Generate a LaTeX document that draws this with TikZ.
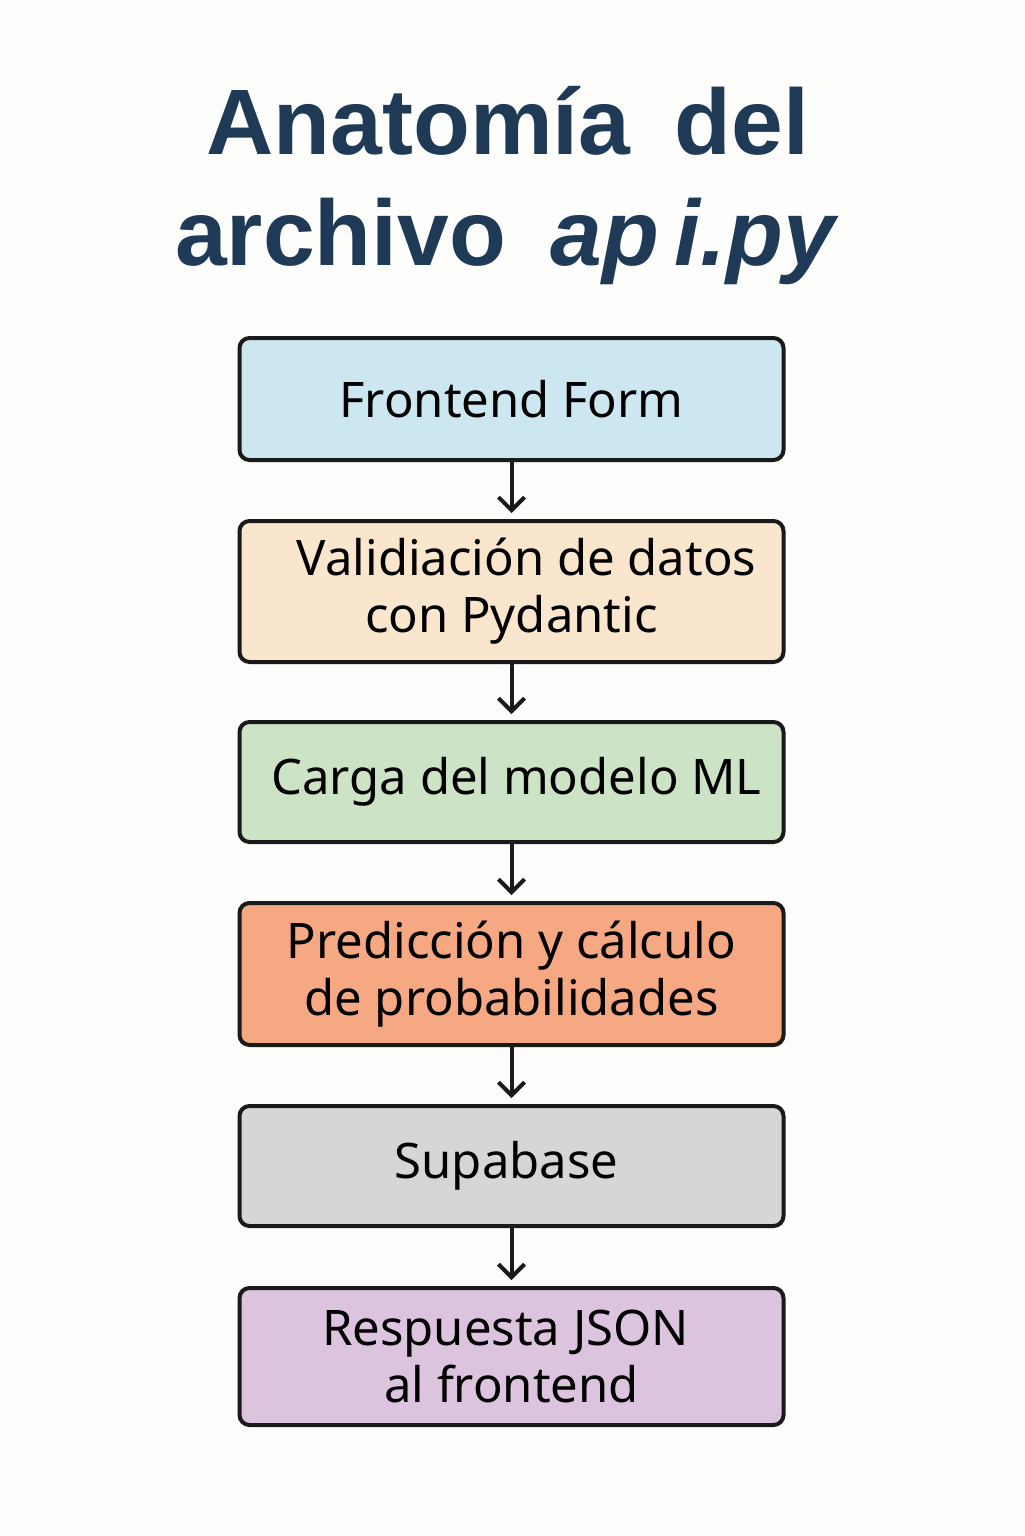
\documentclass[tikz,border=0pt]{standalone}
\usepackage{fontspec}
\setmainfont{Noto Sans}
\newfontfamily\titlefont{Liberation Sans}
\usetikzlibrary{arrows.meta}
\definecolor{bgc}{HTML}{FDFDFB}
\definecolor{titlec}{HTML}{1F3A57}
\definecolor{c1}{HTML}{CDE7F0}
\definecolor{c2}{HTML}{FAE6CC}
\definecolor{c3}{HTML}{CDE3C6}
\definecolor{c4}{HTML}{F6A882}
\definecolor{c5}{HTML}{D6D6D6}
\definecolor{c6}{HTML}{DCC4DF}
\definecolor{linec}{HTML}{1A1A1A}
\tikzset{
  stepbox/.style={draw=linec, line width=2pt, rounded corners=5pt,
    minimum width=272pt, align=center, inner sep=0pt,
    font=\fontsize{24.5}{28.5}\selectfont, text=black},
  flow/.style={draw=linec, line width=2pt,
    -{Straight Barb[length=6.5pt,width=13pt,line width=2pt]}, shorten >=3pt},
  titletext/.style={font=\titlefont\bfseries\fontsize{46.5}{55}\selectfont, text=titlec}
}
\begin{document}
\begin{tikzpicture}[x=0.5pt,y=-0.5pt]
\fill[bgc] (0,0) rectangle (1024,1536);
\useasboundingbox (0,0) rectangle (1024,1536);
\node[titletext, anchor=base] (t1) at (508,155) {Anatomía\hspace{0.2em} del};
\node[titletext, anchor=base] (t2) at (505,265) {archivo\hspace{0.2em} \itshape ap\,i.py};
\node[stepbox, fill=c1, minimum height=61pt] (b1) at (511.5,399) {Frontend Form};
\node[stepbox, fill=c2, minimum height=70.5pt] (b2) at (511.5,591.5) {\hspace*{15pt}Validiación de datos\\\rule{0pt}{22pt}con Pydantic};
\node[stepbox, fill=c3, minimum height=60pt] (b3) at (511.5,782) {\hspace*{5pt}Carga del modelo ML};
\node[stepbox, fill=c4, minimum height=71pt] (b4) at (511.5,974) {Predicción y cálculo\\\rule{0pt}{22pt}de probabilidades};
\node[stepbox, fill=c5, minimum height=60pt] (b5) at (511.5,1166) {Supabase\hspace*{5pt}};
\node[stepbox, fill=c6, minimum height=68.5pt] (b6) at (511.5,1356.5) {Respuesta JSON\hspace*{6pt}\\\rule{0pt}{22pt}al frontend};
\draw[flow] (b1.south) -- (b2.north);
\draw[flow] (b2.south) -- (b3.north);
\draw[flow] (b3.south) -- (b4.north);
\draw[flow] (b4.south) -- (b5.north);
\draw[flow] (b5.south) -- (b6.north);
\end{tikzpicture}
\end{document}
